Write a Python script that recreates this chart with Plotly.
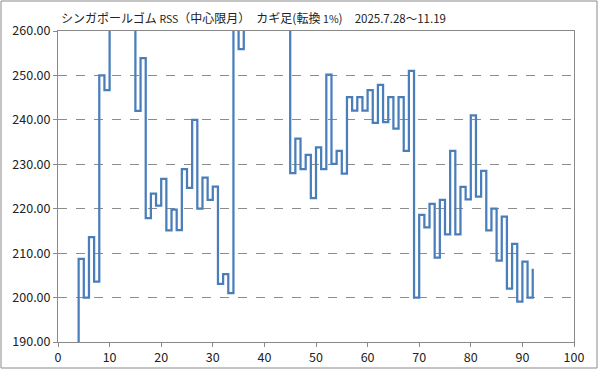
import plotly.graph_objects as go

# Kagi chart: reversal levels, one vertical segment per x position
start_x = 4
start_level = 186.0
reversal_levels = [
    208.7, 200.0, 213.6, 203.6, 250.0, 246.7, 268.0, 262.0, 272.0, 264.0,   # x=4..13
    270.0, 242.0, 253.9, 217.9, 223.4, 220.7, 226.7, 215.1, 219.8, 215.2,   # x=14..23
    228.9, 224.7, 240.0, 220.0, 227.0, 222.0, 225.0, 203.1, 205.3, 201.0,   # x=24..33
    275.0, 255.9, 280.0, 266.0, 285.0, 270.0, 288.0, 272.0, 282.0, 268.0,   # x=34..43
    278.0, 228.0, 235.8, 228.9, 232.1, 222.4, 233.8, 228.9, 250.2, 230.1,   # x=44..53
    233.0, 227.9, 245.1, 242.1, 245.1, 242.1, 246.7, 239.3, 247.9, 239.5,   # x=54..63
    245.1, 238.0, 245.1, 233.0, 251.0, 200.0, 218.6, 215.8, 221.1, 209.0,   # x=64..73
    222.0, 214.2, 233.0, 214.2, 224.9, 222.1, 241.0, 222.7, 228.5, 215.1,   # x=74..83
    220.0, 208.3, 218.2, 202.0, 212.1, 199.1, 208.1, 200.0, 206.5,          # x=84..92
]

x_ticks = [0, 10, 20, 30, 40, 50, 60, 70, 80, 90, 100]
y_ticks = [190, 200, 210, 220, 230, 240, 250, 260]

title_text = ('シンガポールゴム <span style="font-size:10.5px">RSS</span>（中心限月）\u2002'
              'カギ足(転換 <span style="font-size:10.5px">1%</span>)\u2003'
              '<span style="font-size:11.5px">2025.7.28～11.19</span>')

# build the kagi path
xs, ys = [start_x], [start_level]
for i, lvl in enumerate(reversal_levels):
    x = start_x + i
    xs.append(x)
    ys.append(lvl)
    if i < len(reversal_levels) - 1:
        xs.append(x + 1)
        ys.append(lvl)

FONT = "Noto Sans CJK JP"
TICKFONT = dict(family="Noto Sans CJK JP", size=12.5, color="#222222")
fig = go.Figure()
fig.add_trace(go.Scatter(x=xs, y=ys, mode="lines",
                         line=dict(color="#4A7EBB", width=2.25),
                         hoverinfo="skip", showlegend=False))

L, R, T, B = 58, 25, 31, 27
W, H = 599, 369
pw, ph = W - L - R, H - T - B

fig.update_layout(
    width=W, height=H,
    margin=dict(l=L, r=R, t=T, b=B, autoexpand=False),
    paper_bgcolor="white", plot_bgcolor="white",
    font=dict(family=FONT, size=12, color="#222222"),
    showlegend=False,
)
fig.update_xaxes(range=[0, 100], tickvals=x_ticks, showgrid=False, automargin=False,
                 showline=True, linecolor="#8a8a8a", linewidth=1, mirror=True,
                 ticks="outside", ticklen=4, tickcolor="#8a8a8a",
                 zeroline=False, tickfont=TICKFONT)
fig.update_yaxes(range=[190, 260], tickvals=y_ticks, tickformat=".2f", automargin=False,
                 showgrid=True, gridcolor="#8c8c8c", griddash="dash", gridwidth=1,
                 showline=True, linecolor="#8a8a8a", linewidth=1, mirror=True,
                 ticks="outside", ticklen=4, tickcolor="#8a8a8a",
                 zeroline=False, tickfont=TICKFONT)

# title
fig.add_annotation(text=title_text, xref="paper", yref="paper",
                   x=(59 - L) / pw, y=(H - B - 17) / ph, xanchor="left", yanchor="middle",
                   showarrow=False, font=dict(family=FONT, size=12, color="#222222"))

# outer chart frame
fig.add_shape(type="rect", xref="paper", yref="paper",
              x0=(1 - L) / pw, x1=(W - 2 - L) / pw,
              y0=(H - B - (H - 1)) / ph, y1=(H - B - 1) / ph,
              line=dict(color="#8a8a8a", width=1), fillcolor="rgba(0,0,0,0)", layer="below")

fig.write_html("out.html", config={"displayModeBar": False},
               post_script="document.body.style.margin='0';")
